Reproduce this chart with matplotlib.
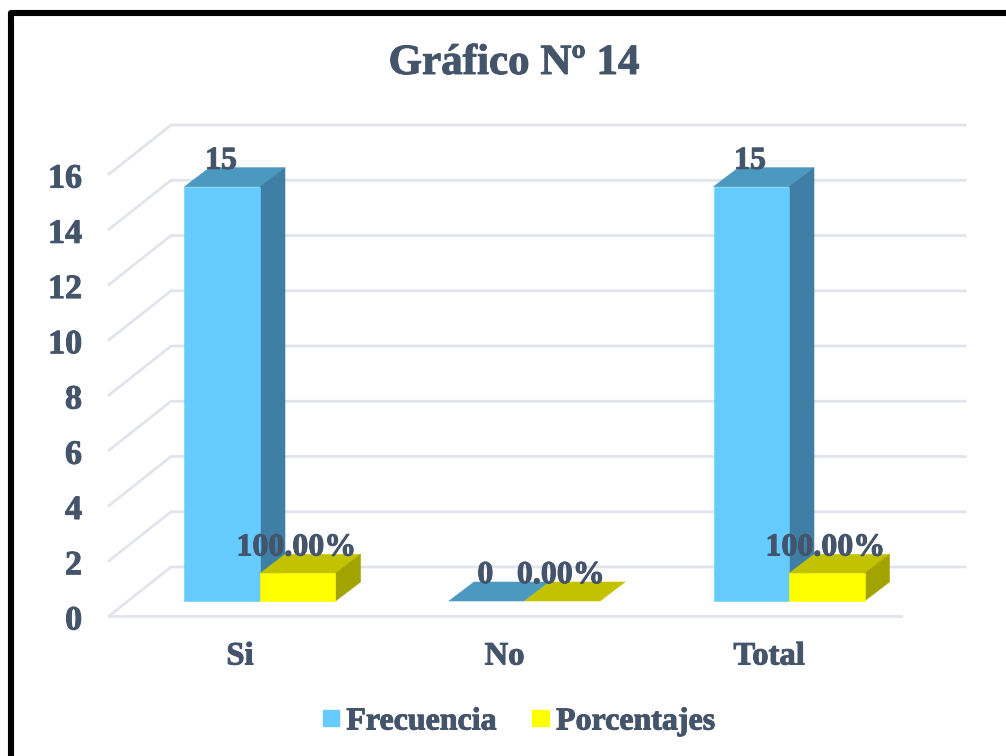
#!/usr/bin/env python3
"""Grafico 14: fake 3D clustered bars, Frecuencia and Porcentajes."""

import matplotlib

matplotlib.use("Agg")
import matplotlib.lines
import matplotlib.patches
import matplotlib.patheffects
import matplotlib.pyplot as plt

# Data
categories = ["Si", "No", "Total"]
frecuencia = [15, 0, 15]
porcentajes = [1.0, 0.0, 1.0]
frecuencia_labels = ["15", "0", "15"]
porcentajes_labels = ["100.00%", "0.00%", "100.00%"]
y_ticks = [0, 2, 4, 6, 8, 10, 12, 14, 16]

# Color palette
text_color = "#44546a"
grid_color = "#e1e4ec"
blue = ("#66ccff", "#4c99bf", "#3f7fa5")  # front, top, side
yellow = ("#ffff00", "#c2c200", "#a3a300")

# Layout, in pixels of the 1006x756 figure
WIDTH, HEIGHT = 1006, 756
GROUP_X, GROUP_STEP = 260, 264.5
BASE_Y, UNIT = 601, 27.62
BAR_W = 75.5 / GROUP_STEP
DEPTH_X = 25 / GROUP_STEP
DEPTH_Y = 19 / UNIT
BACK_Y = (BASE_Y - 567) / UNIT  # wall zero above the bar base
FRONT_Y = (BASE_Y - 616) / UNIT  # floor front edge below the bar base
WALL_DX = 62 / GROUP_STEP
FONT = "Liberation Serif"

# The reference text is a bit heavier than plain Liberation bold
HEAVY = [matplotlib.patheffects.withStroke(linewidth=0.7, foreground=text_color)]


def draw_bar(ax, left, value, colors):
    front, top, side = colors
    right = left + BAR_W
    edge = {"linewidth": 0.4, "joinstyle": "miter"}
    # top and side first, the front sits over their shared edges
    ax.fill(
        [left, right, right + DEPTH_X, left + DEPTH_X],
        [value, value, value + DEPTH_Y, value + DEPTH_Y],
        facecolor=top, edgecolor=top, **edge,
    )
    if value > 0:
        ax.fill(
            [right, right + DEPTH_X, right + DEPTH_X, right],
            [0, DEPTH_Y, value + DEPTH_Y, value],
            facecolor=side, edgecolor=side, **edge,
        )
        ax.fill(
            [left, right, right, left],
            [0, 0, value, value],
            facecolor=front, edgecolor=front, **edge,
        )


def draw_label(ax, x, value, label):
    ax.annotate(
        label,
        xy=(x, value),
        xytext=(-1, 18.3),
        textcoords="offset points",
        ha="center",
        va="center",
        fontsize=23,
        fontweight="bold",
        family=FONT,
        color=text_color,
        path_effects=HEAVY,
        zorder=5,
    )


def draw_walls(ax):
    right_front = (901 - GROUP_X) / GROUP_STEP
    left_front = (109 - GROUP_X) / GROUP_STEP
    right_back = (965 - GROUP_X) / GROUP_STEP
    for tick in y_ticks:
        ax.plot(
            [left_front, left_front + WALL_DX, right_back],
            [FRONT_Y + tick, BACK_Y + tick, BACK_Y + tick],
            color=grid_color, linewidth=2.0, solid_joinstyle="miter", zorder=0,
        )
        ax.text(
            (82 - GROUP_X) / GROUP_STEP, FRONT_Y + tick - 5 / UNIT, str(tick),
            ha="right", va="center", fontsize=24.5, fontweight="bold",
            family=FONT, color=text_color, path_effects=HEAVY,
        )
    # the floor front edge runs on to its own right end
    ax.plot(
        [left_front, right_front], [FRONT_Y, FRONT_Y],
        color=grid_color, linewidth=2.0, zorder=0,
    )


def main():
    fig = plt.figure(figsize=(WIDTH / 100, HEIGHT / 100), dpi=100)
    ax = fig.add_axes([0, 0, 1, 1])
    ax.set_xlim(-GROUP_X / GROUP_STEP, (WIDTH - GROUP_X) / GROUP_STEP)
    ax.set_ylim((BASE_Y - HEIGHT) / UNIT, BASE_Y / UNIT)
    ax.axis("off")

    draw_walls(ax)

    for i, category in enumerate(categories):
        draw_bar(ax, i - BAR_W, frecuencia[i], blue)
        draw_bar(ax, i, porcentajes[i], yellow)
        draw_label(ax, i - BAR_W / 2, frecuencia[i], frecuencia_labels[i])
        draw_label(ax, i + BAR_W / 2, porcentajes[i], porcentajes_labels[i])
        ax.text(
            i - 20 / GROUP_STEP, (BASE_Y - 656) / UNIT, category,
            ha="center", va="center", fontsize=23.5, fontweight="bold",
            family=FONT, color=text_color, path_effects=HEAVY,
        )

    fig.text(
        514 / WIDTH, 1 - 64 / HEIGHT, "Gráfico Nº 14",
        ha="center", va="center", fontsize=31, fontweight="bold",
        family=FONT, color=text_color, path_effects=HEAVY,
    )

    handles = [
        matplotlib.patches.Patch(color=blue[0], label="Frecuencia"),
        matplotlib.patches.Patch(color=yellow[0], label="Porcentajes"),
    ]
    legend = fig.legend(
        handles=handles, ncol=2, frameon=False, loc="center",
        bbox_to_anchor=(519 / WIDTH, 1 - 722 / HEIGHT),
        handlelength=0.525, handleheight=0.43, handletextpad=0.22,
        columnspacing=1.1, borderpad=0,
        prop={"family": FONT, "weight": "bold", "size": 23},
        labelcolor=text_color,
    )
    for text in legend.get_texts():
        text.set_path_effects(HEAVY)

    # Only the top and left sides of the frame are inside the picture
    frame = matplotlib.lines.Line2D(
        [10.5 / WIDTH, 10.5 / WIDTH, 1.01],
        [-0.01, 1 - 13 / HEIGHT, 1 - 13 / HEIGHT],
        transform=fig.transFigure, color="black", linewidth=4.4,
        solid_joinstyle="round",
    )
    fig.add_artist(frame)

    fig.savefig("out.png", dpi=100)
    plt.close(fig)


if __name__ == "__main__":
    main()
